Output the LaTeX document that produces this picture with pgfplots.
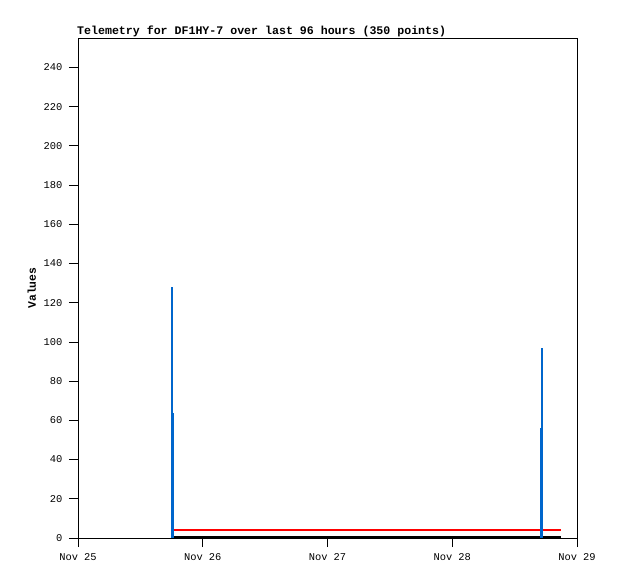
\documentclass[border=0pt]{standalone}
\usepackage{pgfplots}
\pgfplotsset{compat=1.18}
\usepackage{fontspec}
\setmonofont{Liberation Mono}
\definecolor{blu}{HTML}{0066CC}
\begin{document}
\begin{tikzpicture}[x=1pt,y=1pt]
\useasboundingbox (0,0) rectangle (618,579);
\node[anchor=west,font=\ttfamily\bfseries\fontsize{11.6}{12}\selectfont,inner sep=0] at (77,548) {Telemetry for DF1HY-7 over last 96 hours (350 points)};
\begin{axis}[
  at={(78pt,41pt)}, anchor=south west,
  width=499pt, height=500pt, scale only axis,
  xmin=0, xmax=4, ymin=0, ymax=255,
  xtick={0,1,2,3,4}, xticklabels={Nov 25,Nov 26,Nov 27,Nov 28,Nov 29},
  ytick={0,20,...,240},
  tick align=outside, tick pos=left,
  major tick length=9pt,
  tick style={black, line width=0.8pt},
  ticklabel style={font=\ttfamily\fontsize{10.4}{11}\selectfont},
  xticklabel style={yshift=-3pt},
  yticklabel style={xshift=-3pt},
  /pgf/number format/assume math mode=true,
  ylabel={Values}, ylabel style={font=\ttfamily\bfseries\fontsize{11.4}{12}\selectfont, yshift=1pt},
  axis line style={black, line width=0.8pt},
  clip=false,
]
\addplot[black, line width=2pt] coordinates {(0.765,0.6) (3.87,0.6)};
\addplot[red, line width=2pt] coordinates {(0.765,4) (3.87,4)};
\addplot[blu, ycomb, line width=1.8pt] coordinates {(0.753,128) (0.762,64) (3.707,56) (3.72,97)};
\end{axis}
\end{tikzpicture}
\end{document}
